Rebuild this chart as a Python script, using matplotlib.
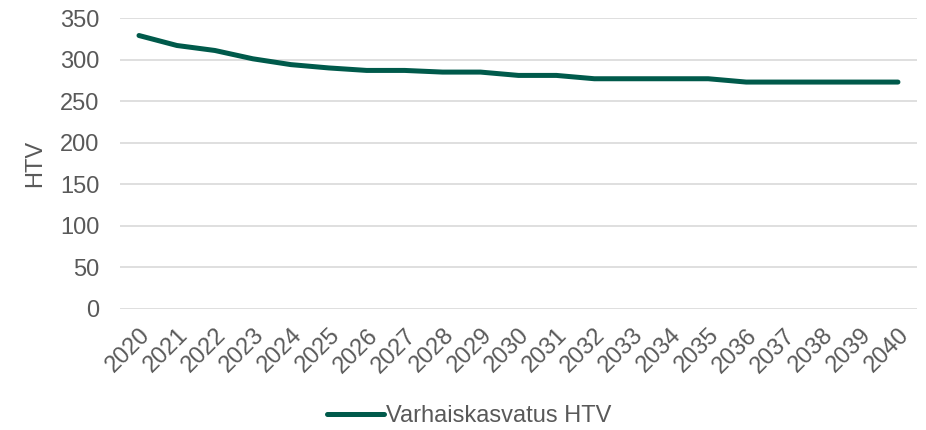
import matplotlib.pyplot as plt

plt.rcParams["font.family"] = ["Liberation Sans", "DejaVu Sans"]

years = [str(y) for y in range(2020, 2041)]
htv = [329, 317, 311, 301, 294, 290, 287, 287, 285, 285, 281, 281,
       277, 277, 277, 277, 273, 273, 273, 273, 273]
y_ticks = [0, 50, 100, 150, 200, 250, 300, 350]

TEXT = "#595959"
GRID = "#d9d9d9"
LINE = "#005a4b"

fig = plt.figure(figsize=(9.26, 4.30), dpi=100)
ax = fig.add_axes([0.1296, 0.2814, 0.8606, 0.6766])

x = list(range(len(years)))
ax.plot(x, htv, color=LINE, linewidth=3.6, solid_capstyle="round",
        label="Varhaiskasvatus HTV")

ax.set_xlim(-0.5, len(years) - 0.5)
ax.set_ylim(0, 350)
ax.set_yticks(y_ticks)
ax.yaxis.grid(True, color=GRID, linewidth=1.2)
ax.set_axisbelow(True)
for side in ["top", "right", "left", "bottom"]:
    ax.spines[side].set_visible(False)

ax.set_xticks(x)
ax.set_xticklabels(years, rotation=45, ha="right", rotation_mode="anchor")
ax.tick_params(axis="both", length=0, labelsize=17, labelcolor=TEXT)
ax.tick_params(axis="y", pad=15)
ax.tick_params(axis="x", pad=11)

ax.set_ylabel("HTV", fontsize=17, color=TEXT, labelpad=10)

fig.legend(loc="lower center", bbox_to_anchor=(0.507, -0.042), frameon=False,
           fontsize=17, labelcolor=TEXT, handlelength=2.4, handletextpad=0.1)

fig.savefig("out.png", dpi=100)
